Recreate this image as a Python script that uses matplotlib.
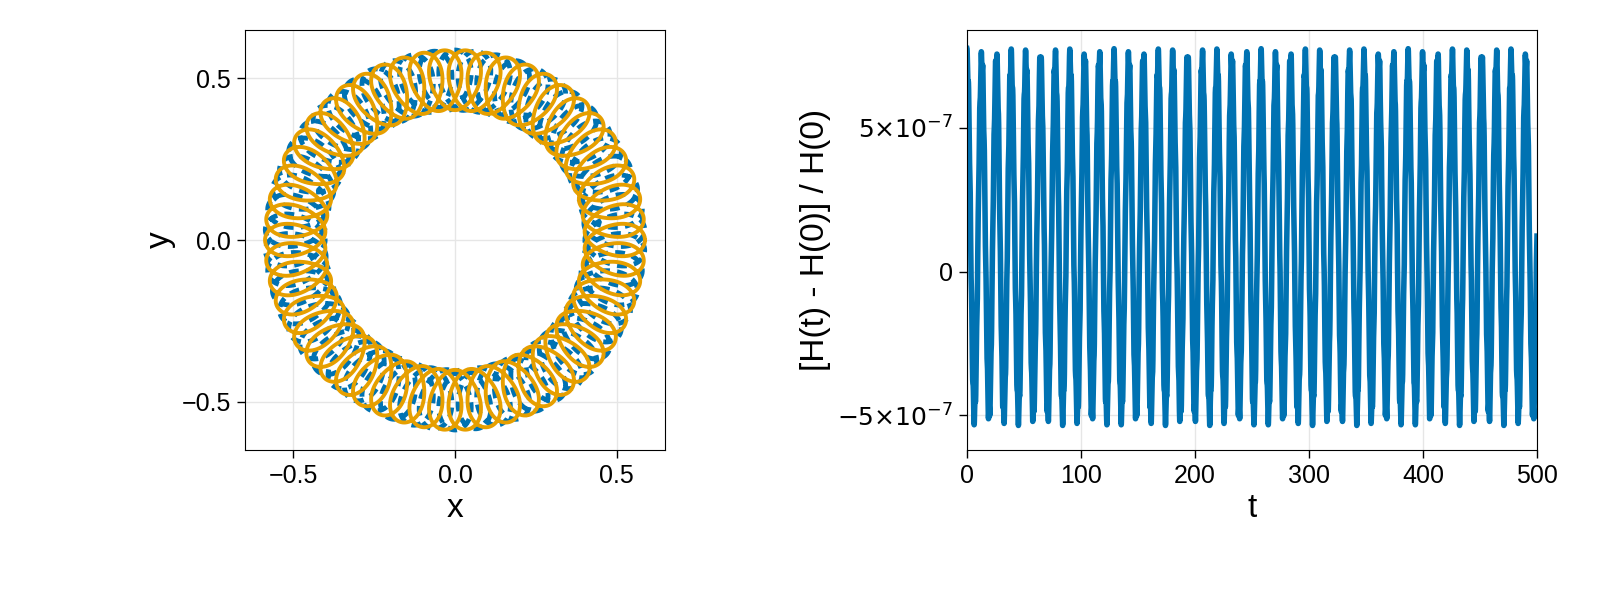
import numpy as np
import matplotlib
matplotlib.use("Agg")
import matplotlib.pyplot as plt

plt.rcParams['font.family'] = ['Liberation Sans', 'DejaVu Sans']

# orbit parameters (guiding radius, epicycle semi-axes, loop count)
R_guide = 0.495
rho_radial = 0.093
rho_tang = 0.062
n_loops = 54
# energy error parameters
err_mean = 1.2e-7
err_amp = 6.2e-7
err_ripple = 0.35e-7
err_period = 12.9
t_end = 500

th = np.linspace(0, 2*np.pi, 30000)
def orbit(phase):
    psi = n_loops*th + phase
    r = R_guide + rho_radial*np.cos(psi)
    ang = th - rho_tang/R_guide*np.sin(psi)
    return r*np.cos(ang), r*np.sin(ang)

fig = plt.figure(figsize=(16, 6), dpi=100)
ax1 = fig.add_axes([245/1600, 150/600, 420/1600, 420/600])
ax2 = fig.add_axes([967/1600, 150/600, 570/1600, 420/600])

xb, yb = orbit(np.pi)
ax1.plot(xb, yb, color='#0072b2', lw=3.5, ls=(0, (2, 1.5)))
xo, yo = orbit(0)
ax1.plot(xo, yo, color='#e69f00', lw=2.8)
ax1.set_xlim(-0.65, 0.65); ax1.set_ylim(-0.65, 0.65)
ax1.set_xticks([-0.5, 0, 0.5]); ax1.set_yticks([-0.5, 0, 0.5])
ax1.set_xticklabels(['−0.5', '0.0', '0.5']); ax1.set_yticklabels(['−0.5', '0.0', '0.5'])
ax1.set_xlabel('x', fontsize=24); ax1.set_ylabel('y', fontsize=24)

t = np.linspace(0, t_end, 40000)
ph = 2*np.pi*t/err_period
err = err_mean + err_amp*np.cos(ph) + err_ripple*np.cos(9.3*ph)
ax2.plot(t, err, color='#0072b2', lw=4)
ax2.set_xlim(0, 500); ax2.set_ylim(-6.2e-7, 8.4e-7)
ax2.set_xticks([0, 100, 200, 300, 400, 500])
ax2.set_yticks([-5e-7, 0, 5e-7])
ax2.set_yticklabels([r'$-5{\times}10^{-7}$', '0', r'$5{\times}10^{-7}$'])
ax2.set_xlabel('t', fontsize=24)
ax2.set_ylabel('[H(t) - H(0)] / H(0)', fontsize=24)

for ax in (ax1, ax2):
    ax.grid(True, color='#e6e6e6', lw=1)
    ax.set_axisbelow(True)
    ax.tick_params(labelsize=18, length=6, width=1, pad=4)
fig.savefig('out.png')
